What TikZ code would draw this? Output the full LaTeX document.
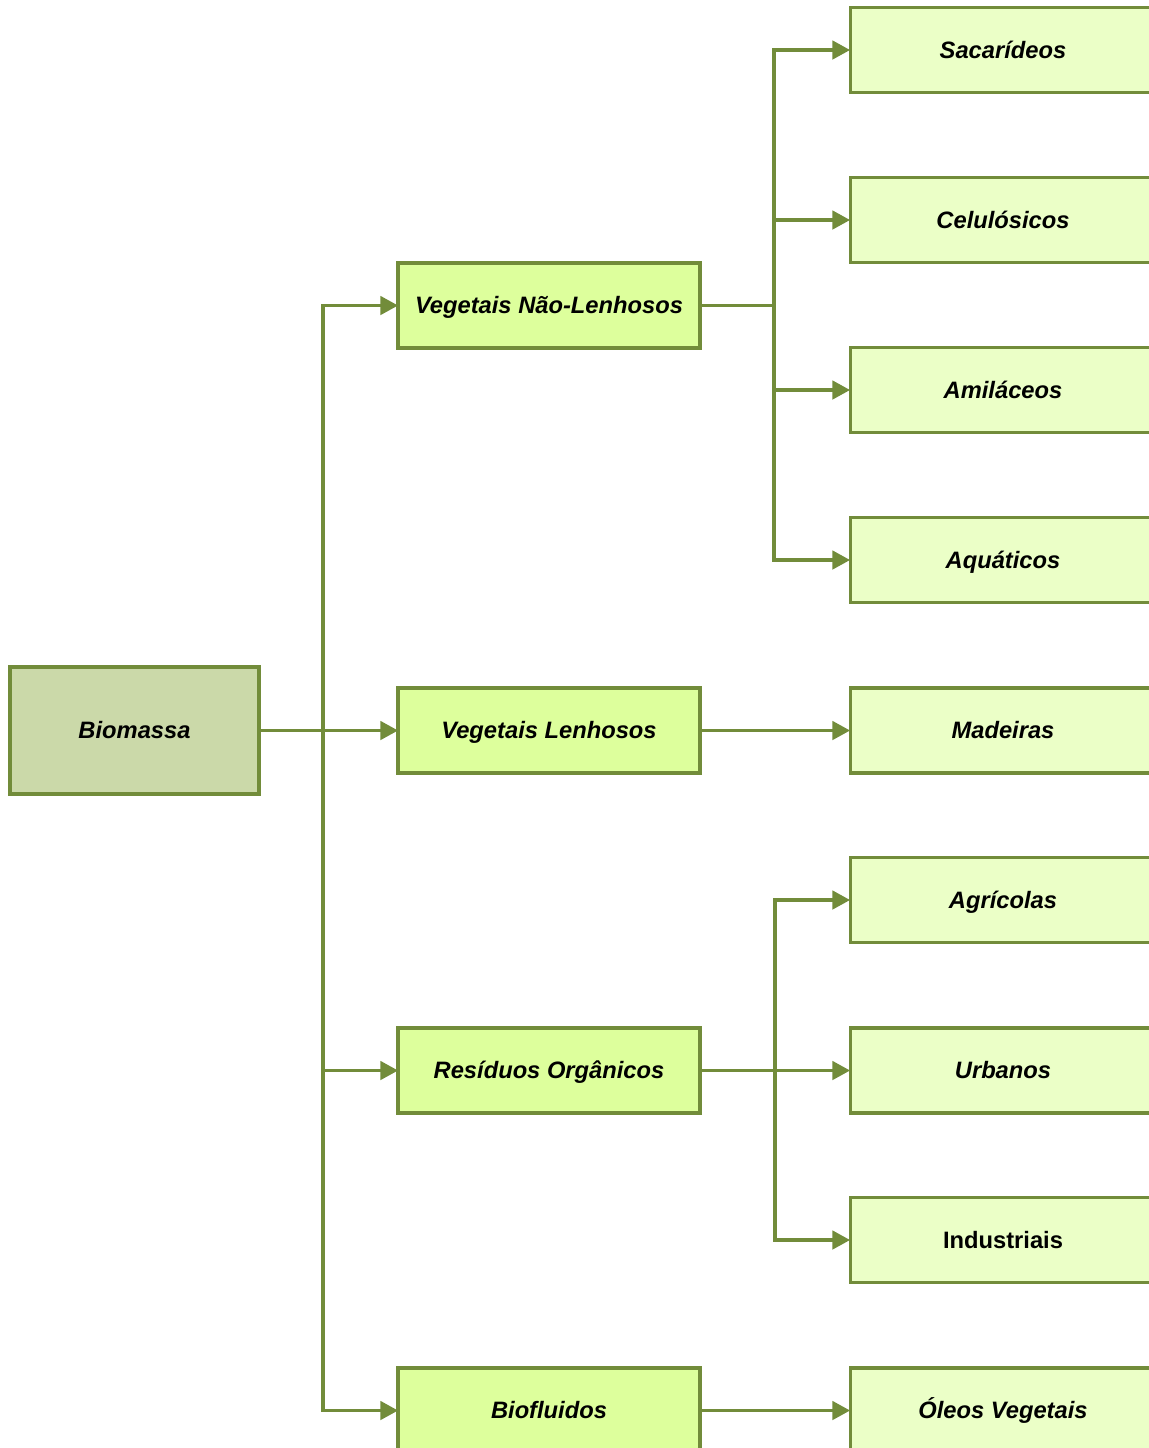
\documentclass[tikz,border=0pt]{standalone}
\usepackage{fontspec}
\setmainfont{Liberation Sans}
\usetikzlibrary{arrows.meta}

\definecolor{oliva}{RGB}{114,140,58}
\definecolor{raiz}{RGB}{203,217,169}
\definecolor{grupo}{RGB}{221,255,156}
\definecolor{tipo}{RGB}{235,255,199}

\begin{document}
\begin{tikzpicture}[x=0.02cm, y=-0.02cm,
		caixa/.style={draw=oliva, line width=1.75pt, outer sep=0pt, align=center,
			text height=11.2pt, text depth=1.8pt,
			font=\fontsize{13.5}{16}\selectfont\bfseries\itshape},
		raizbox/.style={caixa, fill=raiz, minimum width=4.98cm, minimum height=2.54cm},
		grupobox/.style={caixa, fill=grupo, minimum width=6.04cm, minimum height=1.7cm},
		tipobox/.style={caixa, fill=tipo, minimum width=6.12cm, minimum height=1.7cm},
		seta/.style={draw=oliva, line width=1.75pt, -{Triangle[length=10pt,width=10.5pt]}}]
	
	\useasboundingbox (0,0) rectangle (1149,1448);
	\clip (0,0) rectangle (1149,1448);
	
	% raiz
	\node[raizbox] (bio) at (134.5,730.5) {Biomassa};
	
	% grupos
	\node[grupobox] (vnl) at (549,305.5) {Vegetais Não-Lenhosos};
	\node[grupobox] (vl) at (549,730.5) {Vegetais Lenhosos};
	\node[grupobox] (ro) at (549,1070.5) {Resíduos Orgânicos};
	\node[grupobox] (bf) at (549,1410.5) {Biofluidos};
	
	% tipos
	\node[tipobox] (sac) at (1003,50) {Sacarídeos};
	\node[tipobox] (cel) at (1003,220) {Celulósicos};
	\node[tipobox] (ami) at (1003,390) {Amiláceos};
	\node[tipobox] (aqu) at (1003,560) {Aquáticos};
	\node[tipobox] (mad) at (1003,730.5) {Madeiras};
	\node[tipobox] (agr) at (1003,900) {Agrícolas};
	\node[tipobox] (urb) at (1003,1070.5) {Urbanos};
	\node[tipobox, font=\fontsize{13.5}{16}\selectfont\bfseries] (ind) at (1003,1240) {Industriais};
	\node[tipobox] (ole) at (1003,1410.5) {Óleos Vegetais};
	
	% troncos
	\coordinate (t0) at (323,0);
	\coordinate (t1) at (774,0);
	\coordinate (t2) at (775,0);
	
	\draw[seta] (bio.east) -- (vl.west);
	\draw[seta] (t0 |- vl.west) |- (vnl.west);
	\draw[seta] (t0 |- vl.west) |- (ro.west);
	\draw[seta] (t0 |- vl.west) |- (bf.west);
	
	\draw[seta] (vnl.east) -- (t1 |- vnl.east) |- (sac.west);
	\draw[seta] (t1 |- vnl.east) |- (cel.west);
	\draw[seta] (t1 |- vnl.east) |- (ami.west);
	\draw[seta] (t1 |- vnl.east) |- (aqu.west);
	
	\draw[seta] (vl.east) -- (mad.west);
	
	\draw[seta] (ro.east) -- (urb.west);
	\draw[seta] (t2 |- ro.east) |- (agr.west);
	\draw[seta] (t2 |- ro.east) |- (ind.west);
	
	\draw[seta] (bf.east) -- (ole.west);
	
\end{tikzpicture}
\end{document}
